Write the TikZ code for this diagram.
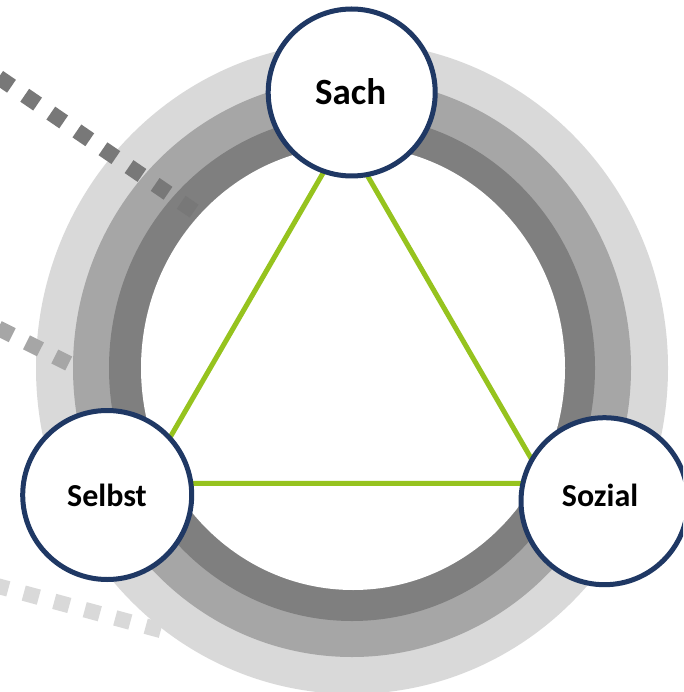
\documentclass[tikz,border=0pt]{standalone}
\usepackage{fontspec}
\setmainfont{Carlito}
\definecolor{ringL}{RGB}{217,217,217}
\definecolor{ringM}{RGB}{166,166,166}
\definecolor{ringD}{RGB}{127,127,127}
\definecolor{dotD}{RGB}{120,120,120}
\definecolor{navy}{RGB}{31,56,100}
\definecolor{lime}{RGB}{150,195,30}
\begin{document}
\begin{tikzpicture}[x=1pt,y=-1pt,
  hub/.style={circle, draw=navy, line width=5pt, fill=white, minimum size=167pt, inner sep=0pt},
  lbl/.style={anchor=base, inner sep=0pt, font=\bfseries\fontsize{32}{38}\selectfont},
  dots/.style={line width=15.6pt, dash pattern=on 15.6pt off 16pt},
  tri/.style={draw=lime, line width=5pt}]
\useasboundingbox (0,0) rectangle (683,692);
\clip (0,0) rectangle (683,692);
\fill[white] (0,0) rectangle (683,692);
% rings
\fill[ringL] (352,368) ellipse [x radius=316, y radius=326];
\fill[ringM] (352,368) ellipse [x radius=279, y radius=289];
\fill[ringD] (352,368) ellipse [x radius=243, y radius=253];
\fill[white] (353,368) ellipse [x radius=212, y radius=222];
% dotted lines
\coordinate (d1s) at (194.1,211.1);
\coordinate (d1e) at (-20.7,64.2);
\coordinate (d2s) at (68.7,363.5);
\coordinate (d2e) at (-20.7,318.7);
\coordinate (d3s) at (160.8,630.3);
\coordinate (d3e) at (-32.2,577.9);
\draw[dots, dotD] (d1s) -- (d1e);
\draw[dots, ringM] (d2s) -- (d2e);
\draw[dots, ringL] (d3s) -- (d3e);
% triangle
\coordinate (tA) at (344.5,136);
\coordinate (tB) at (143.5,483.3);
\coordinate (tC) at (545.5,483.3);
\draw[tri] (tA) -- (tB) -- (tC) -- cycle;
% nodes
\node[hub] (sach) at (351.7,92.5) {};
\node[hub, minimum size=169pt] (selbst) at (107.2,495) {};
\node[hub] (sozial) at (604.5,501.2) {};
\node[lbl, font=\bfseries\fontsize{37}{44}\selectfont] (sachT) at (350.7,105) {Sach};
\node[lbl] (selbstT) at (107,506.7) {Selbst};
\node[lbl] (sozialT) at (600,506.7) {Sozial};
\end{tikzpicture}
\end{document}
